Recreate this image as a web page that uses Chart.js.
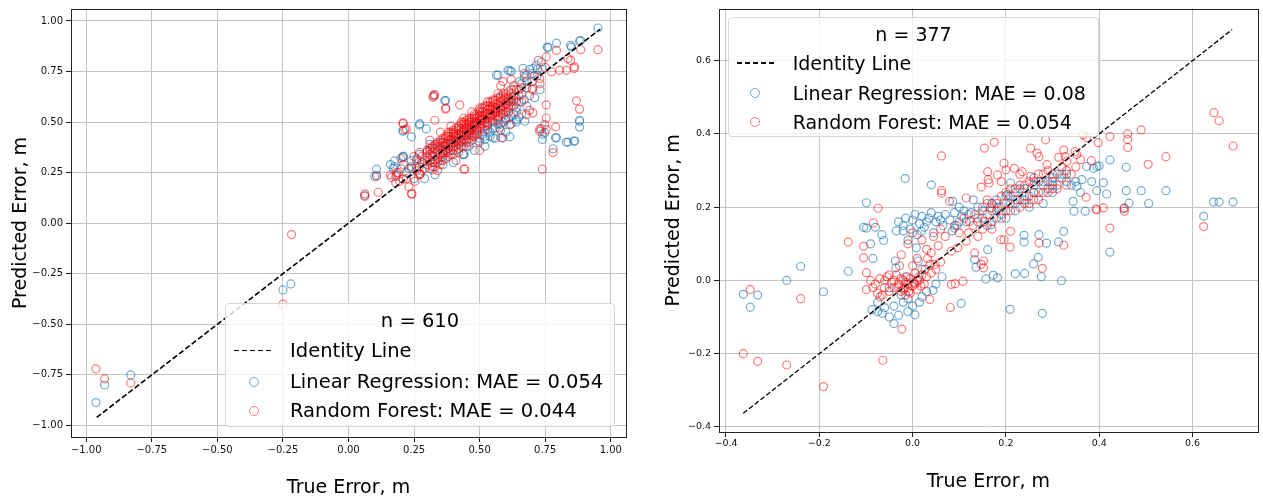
<!DOCTYPE html>
<html>
<head>
<meta charset="utf-8">
<script src="https://cdn.jsdelivr.net/npm/chart.js@4.4.1/dist/chart.umd.min.js"></script>
<style>
  body { margin: 0; background: #fff; width: 1263px; height: 500px; overflow: hidden; position: relative; font-family: "DejaVu Sans", sans-serif; }
  canvas { position: absolute; top: 0; }
  #leftChart { left: 0; }
  #rightChart { left: 640px; }
  .legend { position: absolute; background: rgba(255,255,255,0.8); border: 1px solid #d6d6d6; border-radius: 4px; box-sizing: border-box; color: #000; }
  .legend .row { position: absolute; white-space: nowrap; display: flex; align-items: center; }
  .legend .dash { position: absolute; height: 1.6px; background: repeating-linear-gradient(90deg, #000 0 5.5px, transparent 5.5px 8px); }
  .legend .dot { position: absolute; width: 8px; height: 8px; border-radius: 50%; box-sizing: content-box; }
</style>
</head>
<body>
<canvas id="leftChart" width="640" height="500"></canvas>
<canvas id="rightChart" width="623" height="500"></canvas>
<div id="leftLegend" class="legend"></div>
<div id="rightLegend" class="legend"></div>
<script>
// ---- data ----
const leftTicks = [-1.0, -0.75, -0.5, -0.25, 0.0, 0.25, 0.5, 0.75, 1.0];
const rightTicks = [-0.4, -0.2, 0.0, 0.2, 0.4, 0.6];

const leftIdentity = [-0.96, 0.96];
const rightIdentity = [-0.363, 0.685];

const leftN = 'n = 610';
const rightN = 'n = 377';
const leftMae = { linear: '0.054', forest: '0.044' };
const rightMae = { linear: '0.08', forest: '0.054' };

// left panel, linear regression
const leftLinear = [
  [-0.963,-0.887],[-0.93,-0.80],[-0.83,-0.75],[-0.25,-0.33],[-0.22,-0.30],
  [0.062,0.137],[0.107,0.267],[0.107,0.238],[0.10,0.231],[0.17,0.27],[0.176,0.308],[0.208,0.324],[0.176,0.28],[0.207,0.33],
  [0.208,0.455],[0.208,0.46],[0.24,0.427],[0.27,0.486],[0.272,0.492],[0.297,0.466],[0.325,0.628],[0.367,0.605],[0.37,0.607],
  [0.437,0.34],[0.44,0.34],[0.519,0.414],[0.551,0.422],[0.589,0.422],[0.615,0.427],[0.64,0.512],[0.672,0.504],[0.65,0.525],
  [0.735,0.466],[0.748,0.447],[0.739,0.414],[0.74,0.44],[0.78,0.368],[0.789,0.422],[0.793,0.422],[0.83,0.40],[0.837,0.401],[0.86,0.406],[0.862,0.406],
  [0.881,0.509],[0.881,0.475],[0.881,0.504],
  [0.564,0.732],[0.57,0.732],[0.608,0.756],[0.621,0.751],[0.615,0.753],[0.653,0.70],[0.665,0.765],[0.678,0.732],[0.703,0.765],[0.716,0.781],[0.735,0.797],[0.72,0.76],
  [0.758,0.871],[0.761,0.867],[0.793,0.89],[0.847,0.879],[0.85,0.871],[0.881,0.90],[0.885,0.903],[0.951,0.965],
  [0.28,0.26],[0.30,0.31],[0.31,0.27],[0.32,0.33],[0.33,0.30],[0.34,0.36],[0.35,0.31],[0.36,0.34],[0.37,0.39],[0.38,0.33],[0.39,0.36],
  [0.40,0.40],[0.41,0.36],[0.42,0.39],[0.43,0.43],[0.44,0.38],[0.45,0.41],[0.46,0.45],[0.47,0.41],[0.48,0.44],[0.49,0.46],[0.50,0.42],
  [0.51,0.47],[0.52,0.43],[0.53,0.48],[0.54,0.45],[0.55,0.50],[0.56,0.47],[0.57,0.52],[0.58,0.49],[0.59,0.54],[0.60,0.51],[0.61,0.57],
  [0.62,0.53],[0.63,0.58],[0.64,0.62],[0.65,0.60],[0.66,0.64],[0.68,0.67],[0.70,0.70],[0.72,0.73],[0.74,0.76],[0.67,0.72],[0.69,0.76],
  [0.62,0.66],[0.58,0.62],[0.54,0.57],[0.50,0.53],[0.46,0.50],[0.42,0.47],[0.38,0.43],[0.34,0.40],[0.30,0.36],[0.26,0.32],[0.24,0.28],
  [0.22,0.25],[0.20,0.27],[0.18,0.23],[0.16,0.29],[0.21,0.33],[0.25,0.22],[0.29,0.22],[0.36,0.29],[0.44,0.34],[0.52,0.38],[0.48,0.36],
  [0.56,0.42],[0.60,0.45],[0.64,0.50],[0.68,0.58],[0.71,0.62],[0.73,0.66],[0.66,0.54],[0.40,0.30],[0.33,0.24],
  [0.35,0.37],[0.37,0.36],[0.39,0.38],[0.41,0.43],[0.43,0.40],[0.45,0.44],[0.47,0.47],[0.49,0.49],[0.51,0.44],[0.53,0.46],[0.55,0.47],
  [0.57,0.49],[0.59,0.50],[0.61,0.52],[0.63,0.54],[0.52,0.51],[0.54,0.53],[0.56,0.55],[0.58,0.57],[0.60,0.59],[0.62,0.61],[0.46,0.38],
  [0.50,0.40],[0.54,0.43],[0.58,0.46],[0.62,0.49],[0.44,0.46],[0.40,0.43],[0.36,0.40],[0.32,0.37],[0.28,0.30],[0.26,0.28],[0.23,0.27],
  [0.27,0.34],[0.24,0.31],[0.31,0.39],[0.66,0.69],[0.70,0.74],[0.64,0.57],[0.67,0.61]
];

// left panel, random forest
const leftForest = [
  [-0.963,-0.72],[-0.93,-0.77],[-0.83,-0.79],[-0.25,-0.40],[-0.217,-0.056],
  [0.062,0.145],[0.062,0.132],[0.113,0.153],[0.107,0.231],[0.164,0.227],[0.183,0.251],[0.183,0.238],[0.195,0.207],[0.208,0.218],
  [0.24,0.145],[0.242,0.145],[0.253,0.207],[0.272,0.243],[0.274,0.243],[0.322,0.264],[0.44,0.267],[0.443,0.267],
  [0.208,0.492],[0.208,0.496],[0.215,0.463],[0.221,0.466],[0.322,0.623],[0.329,0.634],[0.325,0.634],[0.37,0.564],[0.371,0.569],[0.329,0.509],[0.424,0.585],
  [0.494,0.406],[0.50,0.36],[0.576,0.471],[0.583,0.422],[0.615,0.487],[0.678,0.536],[0.69,0.558],[0.703,0.545],
  [0.729,0.455],[0.729,0.466],[0.739,0.267],[0.748,0.487],[0.754,0.463],[0.754,0.52],[0.754,0.585],[0.78,0.349],[0.79,0.476],[0.869,0.605],[0.881,0.564],
  [0.589,0.70],[0.703,0.667],[0.729,0.716],[0.724,0.805],[0.754,0.822],[0.774,0.749],[0.793,0.854],[0.805,0.756],[0.831,0.756],
  [0.837,0.814],[0.86,0.765],[0.862,0.773],[0.847,0.805],[0.885,0.858],[0.951,0.858],
  [0.28,0.30],[0.29,0.27],[0.30,0.33],[0.30,0.29],[0.31,0.31],[0.32,0.35],[0.32,0.30],[0.33,0.33],[0.33,0.37],[0.34,0.32],[0.34,0.35],
  [0.35,0.38],[0.35,0.34],[0.36,0.36],[0.36,0.40],[0.37,0.35],[0.37,0.38],[0.38,0.41],[0.38,0.37],[0.39,0.39],[0.39,0.43],[0.40,0.38],
  [0.40,0.41],[0.41,0.44],[0.41,0.40],[0.42,0.42],[0.42,0.46],[0.43,0.41],[0.43,0.44],[0.44,0.47],[0.44,0.43],[0.45,0.45],[0.45,0.49],
  [0.46,0.44],[0.46,0.47],[0.47,0.50],[0.47,0.46],[0.48,0.48],[0.48,0.52],[0.49,0.47],[0.49,0.50],[0.50,0.53],[0.50,0.49],[0.51,0.51],
  [0.51,0.55],[0.52,0.50],[0.52,0.53],[0.53,0.56],[0.53,0.52],[0.54,0.54],[0.54,0.58],[0.55,0.53],[0.55,0.56],[0.56,0.59],[0.56,0.55],
  [0.57,0.57],[0.58,0.60],[0.58,0.56],[0.59,0.58],[0.60,0.62],[0.60,0.59],[0.61,0.60],[0.62,0.64],[0.63,0.61],[0.64,0.66],[0.65,0.63],
  [0.30,0.36],[0.33,0.28],[0.36,0.31],[0.38,0.45],[0.40,0.34],[0.42,0.37],[0.44,0.52],[0.46,0.40],[0.48,0.43],[0.50,0.57],[0.52,0.46],
  [0.55,0.61],[0.57,0.51],[0.59,0.64],[0.61,0.55],[0.63,0.68],[0.66,0.60],[0.68,0.70],[0.70,0.66],[0.26,0.31],[0.27,0.24],[0.24,0.27],
  [0.22,0.22],[0.25,0.33],[0.21,0.29],[0.19,0.25],[0.23,0.18],[0.27,0.35],[0.31,0.41],[0.35,0.45],[0.39,0.48],[0.34,0.26],[0.41,0.31],
  [0.45,0.38],[0.43,0.50],[0.47,0.55],[0.53,0.60],[0.57,0.64],[0.60,0.52],[0.62,0.58],[0.64,0.55],[0.66,0.67],[0.69,0.63],[0.71,0.73],
  [0.73,0.69],[0.75,0.77],[0.67,0.74],[0.62,0.71],[0.58,0.68],[0.20,0.32],[0.18,0.20],[0.16,0.24],
  [0.31,0.34],[0.32,0.28],[0.33,0.31],[0.34,0.38],[0.35,0.29],[0.35,0.41],[0.36,0.33],[0.37,0.42],[0.37,0.32],[0.38,0.35],[0.38,0.39],
  [0.39,0.34],[0.39,0.41],[0.40,0.44],[0.40,0.36],[0.41,0.38],[0.41,0.42],[0.42,0.40],[0.42,0.44],[0.43,0.38],[0.43,0.47],[0.44,0.41],
  [0.44,0.45],[0.45,0.43],[0.45,0.47],[0.46,0.42],[0.46,0.49],[0.47,0.44],[0.47,0.48],[0.48,0.46],[0.48,0.50],[0.49,0.44],[0.49,0.52],
  [0.50,0.47],[0.50,0.51],[0.51,0.49],[0.51,0.53],[0.52,0.48],[0.52,0.55],[0.53,0.50],[0.53,0.54],[0.54,0.52],[0.54,0.56],[0.55,0.51],
  [0.55,0.58],[0.56,0.53],[0.56,0.57],[0.57,0.55],[0.57,0.59],[0.58,0.54],[0.58,0.58],[0.59,0.56],[0.59,0.61],[0.60,0.57],[0.61,0.62],
  [0.61,0.58],[0.62,0.60],[0.63,0.63],[0.64,0.60],[0.65,0.66],[0.44,0.49],[0.46,0.51],[0.48,0.54],[0.50,0.55],[0.52,0.57],[0.40,0.46],
  [0.38,0.43],[0.36,0.38],[0.34,0.30],[0.42,0.35],[0.45,0.40],[0.47,0.43],[0.49,0.45],[0.53,0.49],[0.55,0.54],[0.57,0.53],[0.60,0.55],
  [0.29,0.31],[0.27,0.28],[0.26,0.26],[0.28,0.33],[0.31,0.37],
  [0.30,0.35],[0.31,0.36],[0.32,0.38],[0.33,0.39],[0.34,0.39],[0.35,0.40],[0.36,0.42],[0.37,0.43],[0.38,0.44],[0.39,0.45],[0.40,0.45],
  [0.41,0.47],[0.42,0.48],[0.43,0.49],[0.44,0.50],[0.45,0.51],[0.46,0.52],[0.47,0.52],[0.48,0.53],[0.49,0.54],[0.50,0.56],[0.51,0.57],
  [0.52,0.58],[0.53,0.58],[0.54,0.60],[0.55,0.60],[0.56,0.61],[0.57,0.62],[0.58,0.63],[0.59,0.63],[0.60,0.64],[0.61,0.65],[0.63,0.66],
  [0.36,0.35],[0.41,0.41],[0.46,0.46],[0.51,0.52],[0.56,0.56],[0.43,0.45],[0.48,0.49]
];

// right panel, linear regression
const rightLinear = [
  [-0.363,-0.038],[-0.348,-0.073],[-0.332,-0.040],[-0.270,0.000],[-0.240,0.038],[-0.191,-0.031],[-0.138,0.025],
  [-0.099,0.212],[-0.016,0.278],[0.040,0.261],
  [-0.105,0.145],[-0.099,0.143],[-0.090,0.100],[-0.080,0.145],[-0.085,0.060],[-0.066,0.125],[-0.062,0.109],[-0.037,0.053],[-0.036,0.034],
  [-0.035,0.135],[-0.030,0.160],[-0.020,0.150],[-0.015,0.170],[-0.005,0.140],[0.000,0.165],[0.005,0.180],[0.015,0.155],[0.020,0.175],
  [0.025,0.145],[0.035,0.170],[0.040,0.185],[0.050,0.160],[0.055,0.175],[0.065,0.150],[0.070,0.180],[0.080,0.165],[0.090,0.185],
  [0.095,0.150],[0.105,0.175],[0.115,0.160],[0.125,0.185],[0.010,0.125],[0.045,0.130],[0.085,0.135],[-0.010,0.110],[0.019,0.134],
  [0.008,0.089],[0.012,0.053],[0.090,0.143],[0.086,0.216],
  [-0.087,-0.080],[-0.075,-0.085],[-0.065,-0.090],[-0.060,-0.075],[-0.050,-0.100],[-0.040,-0.118],[-0.030,-0.095],[-0.020,-0.060],
  [-0.010,-0.050],[0.005,-0.094],[0.000,-0.070],[-0.025,-0.040],[0.015,-0.060],[0.030,-0.030],[0.044,-0.027],[-0.050,-0.020],
  [-0.015,0.010],[0.010,0.000],[0.020,0.030],
  [0.104,-0.063],[0.173,0.014],[0.182,0.007],[0.209,-0.079],[0.278,-0.090],[0.157,0.004],[0.136,0.036],[0.220,0.018],[0.240,0.019],
  [0.259,0.045],[0.269,0.063],[0.276,0.010],[0.319,-0.001],[0.423,0.077],[0.063,0.010],
  [0.161,0.084],[0.133,0.057],[0.168,0.152],[0.182,0.198],[0.203,0.234],[0.210,0.266],
  [0.239,0.105],[0.239,0.123],[0.271,0.125],[0.287,0.102],[0.313,0.105],[0.324,0.134],
  [0.14,0.20],[0.15,0.17],[0.16,0.21],[0.17,0.19],[0.18,0.22],[0.19,0.20],[0.20,0.23],[0.21,0.21],[0.22,0.24],[0.23,0.22],[0.24,0.25],
  [0.25,0.23],[0.26,0.26],[0.27,0.24],[0.28,0.27],[0.29,0.25],[0.30,0.28],[0.31,0.26],[0.32,0.29],[0.33,0.27],[0.25,0.20],[0.28,0.21],
  [0.30,0.24],[0.22,0.19],[0.18,0.17],[0.12,0.18],[0.10,0.20],[0.13,0.22],[0.26,0.28],
  [0.344,0.216],[0.346,0.189],[0.370,0.189],[0.352,0.257],[0.363,0.275],[0.384,0.270],[0.373,0.311],[0.388,0.306],[0.395,0.311],
  [0.423,0.329],[0.400,0.313],[0.409,0.267],[0.395,0.245],[0.416,0.236],[0.458,0.309],[0.458,0.245],[0.490,0.245],[0.543,0.245],
  [0.464,0.211],[0.506,0.210],[0.453,0.196],[0.645,0.214],[0.657,0.214],[0.687,0.214],[0.624,0.175],
  [0.15,0.19],[0.17,0.21],[0.19,0.18],[0.21,0.23],[0.23,0.25],[0.24,0.22],[0.26,0.24],[0.27,0.27],[0.29,0.27],[0.30,0.26],[0.31,0.29],
  [0.33,0.29],[0.34,0.26],[0.35,0.27],[0.36,0.24],[0.11,0.19],[0.14,0.16],[0.16,0.15],[0.20,0.17],[0.22,0.21],[-0.02,0.135],[0.03,0.16],
  [0.06,0.165],[0.10,0.16],[-0.075,-0.06],[-0.04,-0.07],[-0.01,-0.085],[0.02,-0.045],[0.05,-0.01]
];

// right panel, random forest
const rightForest = [
  [-0.363,-0.200],[-0.348,-0.025],[-0.332,-0.221],[-0.270,-0.231],[-0.240,-0.050],[-0.191,-0.290],[-0.064,-0.218],
  [-0.138,0.105],[-0.105,0.093],[-0.105,0.062],[-0.099,0.021],[-0.099,-0.025],[-0.084,0.157],[-0.074,0.197],[0.062,0.340],[0.062,0.245],
  [0.062,0.238],[0.079,0.216],[0.115,0.225],
  [-0.080,-0.010],[-0.075,-0.035],[-0.070,0.005],[-0.060,-0.020],[-0.055,0.010],[-0.050,-0.030],[-0.045,-0.005],[-0.040,-0.020],
  [-0.035,0.015],[-0.030,-0.010],[-0.025,-0.030],[-0.020,0.000],[-0.018,-0.020],[-0.015,-0.040],[-0.012,0.010],[-0.010,-0.010],
  [-0.008,-0.030],[-0.005,0.005],[0.000,-0.015],[0.003,-0.005],[0.005,0.020],[0.010,-0.025],[0.015,0.000],[0.020,0.015],[0.025,-0.010],
  [0.027,0.030],[-0.023,-0.133],[-0.065,-0.040],[-0.028,0.040],[0.000,0.040],[0.037,-0.052],[0.081,-0.074],
  [-0.024,0.070],[-0.010,0.100],[0.000,0.130],[0.010,0.060],[0.020,0.110],[0.030,0.085],[0.040,0.075],[0.048,0.044],[0.037,0.044],
  [0.045,0.120],[0.055,0.095],[0.083,0.080],[0.097,0.089],[0.115,0.107],[0.083,-0.011],[0.108,-0.002],[0.091,-0.009],[0.133,0.075],
  [0.147,0.044],[0.152,0.053],[0.152,0.034],[0.278,0.033],[0.122,0.161],[0.133,0.180],[0.154,0.161],[0.168,0.198],[0.189,0.111],
  [0.210,0.134],[0.196,0.111],[0.209,0.091],[0.271,0.102],[0.324,0.096],[0.06,0.14],[0.07,0.12],[0.09,0.15],[0.10,0.13],
  [0.13,0.15],[0.14,0.17],[0.15,0.14],[0.16,0.18],[0.17,0.16],[0.18,0.19],[0.19,0.17],[0.20,0.21],[0.21,0.19],[0.22,0.22],[0.23,0.20],
  [0.24,0.23],[0.25,0.21],[0.26,0.24],[0.27,0.22],[0.28,0.26],[0.29,0.24],[0.30,0.27],[0.31,0.25],[0.32,0.28],[0.33,0.26],[0.34,0.29],
  [0.19,0.23],[0.21,0.25],[0.23,0.26],[0.25,0.27],[0.27,0.29],[0.29,0.30],[0.17,0.21],[0.15,0.20],[0.196,0.320],[0.218,0.306],
  [0.235,0.297],[0.253,0.284],[0.288,0.316],[0.200,0.302],[0.161,0.297],[0.162,0.275],[0.182,0.288],[0.147,0.255],[0.164,0.266],
  [0.154,0.361],[0.175,0.377],[0.253,0.361],[0.267,0.347],[0.271,0.338],[0.285,0.384],[0.324,0.356],[0.348,0.352],[0.327,0.338],
  [0.313,0.336],[0.331,0.325],[0.352,0.344],[0.366,0.397],[0.373,0.390],[0.383,0.327],[0.398,0.376],[0.423,0.393],[0.461,0.400],
  [0.461,0.385],[0.461,0.363],[0.490,0.411],[0.543,0.338],[0.505,0.317],[0.372,0.227],[0.395,0.193],[0.409,0.198],[0.423,0.143],
  [0.454,0.198],[0.454,0.189],[0.393,0.195],[0.646,0.458],[0.657,0.436],[0.687,0.367],[0.624,0.147],
  [-0.03,-0.02],[-0.02,-0.025],[-0.01,-0.02],[-0.015,-0.005],[0.005,-0.01],[-0.025,0.005],[-0.005,-0.035],[0.012,0.008],[-0.04,0.000],
  [-0.06,0.000],[-0.05,0.015],[0.018,-0.015],[0.03,0.01],[0.04,0.02],[0.05,0.03],[0.06,0.05],[-0.09,0.00],[-0.085,-0.02],[-0.07,-0.045],
  [0.032,0.060],
  [0.16,0.22],[0.18,0.21],[0.20,0.19],[0.20,0.24],[0.22,0.25],[0.24,0.26],[0.24,0.21],[0.26,0.27],[0.26,0.22],[0.28,0.24],[0.28,0.29],
  [0.30,0.29],[0.30,0.25],[0.32,0.31],[0.33,0.30],[0.35,0.31],[0.36,0.33],[0.12,0.13],[0.11,0.17],[0.14,0.12],[0.17,0.14],[0.19,0.27],
  [0.23,0.29]
];

// ---- styling ----
const BLUE = 'rgba(31,119,180,0.62)';
const RED = 'rgba(255,0,0,0.52)';
const FONT = '"DejaVu Sans", sans-serif';

const toPts = arr => arr.map(p => ({ x: p[0], y: p[1] }));
const fmt = (v, d) => v.toFixed(d).replace('-', '\u2212');

// black box around the plot area
const frame = {
  id: 'frame',
  afterDatasetsDraw(chart) {
    const a = chart.chartArea, ctx = chart.ctx;
    ctx.save();
    ctx.strokeStyle = '#222';
    ctx.lineWidth = 1;
    ctx.strokeRect(Math.round(a.left) + 0.5, Math.round(a.top) + 0.5, Math.round(a.right - a.left), Math.round(a.bottom - a.top));
    ctx.restore();
  }
};

function makeChart(id, c) {
  const axis = (ticks, lim, digits, size, fixer, title, titlePad, tickPad) => ({
    type: 'linear', min: lim[0], max: lim[1],
    afterBuildTicks: s => { s.ticks = ticks.map(v => ({ value: v })); },
    afterFit: fixer,
    ticks: { callback: v => fmt(v, digits), font: { family: FONT, size: size }, color: '#111', padding: tickPad, maxRotation: 0, autoSkip: false },
    grid: { color: '#c4c4c4', lineWidth: 1, tickColor: '#222', tickLength: 5 },
    border: { display: false },
    title: { display: true, text: title, font: { family: FONT, size: 19 }, color: '#000', padding: titlePad }
  });
  return new Chart(document.getElementById(id), {
    type: 'scatter',
    data: {
      datasets: [
        { type: 'line', label: 'Identity Line', data: toPts([[c.identity[0], c.identity[0]], [c.identity[1], c.identity[1]]]),
          borderColor: '#000', borderWidth: c.lineW, borderDash: c.dash, pointRadius: 0, fill: false, order: 0 },
        { label: 'Linear Regression: MAE = ' + c.mae.linear, data: toPts(c.linear),
          borderColor: BLUE, backgroundColor: 'transparent', borderWidth: 1.2, pointRadius: 4, order: 2 },
        { label: 'Random Forest: MAE = ' + c.mae.forest, data: toPts(c.forest),
          borderColor: RED, backgroundColor: 'transparent', borderWidth: 1.2, pointRadius: 4, order: 1 }
      ]
    },
    options: {
      responsive: false,
      animation: false,
      events: [],
      layout: { padding: c.pad },
      plugins: { legend: { display: false }, tooltip: { enabled: false } },
      scales: {
        x: axis(c.ticks, c.xlim, c.digits, c.tickSize, s => { s.height = c.xH; }, 'True Error, m', { top: 0, bottom: c.xTitlePad }, c.xTickPad),
        y: axis(c.ticks, c.ylim, c.digits, c.tickSize, s => { s.width = c.yW; }, 'Predicted Error, m', { top: c.yTitlePad, bottom: 0 }, 3)
      }
    },
    plugins: [frame]
  });
}

const left = makeChart('leftChart', {
  identity: leftIdentity, linear: leftLinear, forest: leftForest, mae: leftMae, ticks: leftTicks, digits: 2, tickSize: 10,
  xlim: [-1.058, 1.058], ylim: [-1.057, 1.059], pad: { left: 0, right: 14, top: 5, bottom: 0 },
  xH: 63, yW: 71, xTitlePad: 1, yTitlePad: 10, xTickPad: 2, lineW: 1.6, dash: [5.5, 2.5]
});
const right = makeChart('rightChart', {
  identity: rightIdentity, linear: rightLinear, forest: rightForest, mae: rightMae, ticks: rightTicks, digits: 1, tickSize: 9.5,
  xlim: [-0.415, 0.740], ylim: [-0.414, 0.742], pad: { left: 0, right: 1, top: 7, bottom: 0 },
  xH: 68, yW: 79, xTitlePad: 7, yTitlePad: 23, xTickPad: 1, lineW: 1.3, dash: [5, 2.3]
});

// legend boxes drawn as html, labels taken from the chart datasets
function makeLegend(elId, chart, title, L) {
  const el = document.getElementById(elId);
  Object.assign(el.style, { left: L.x + 'px', top: L.y + 'px', width: L.w + 'px', height: L.h + 'px' });
  const fs = L.font;
  const row = (text, cy, x, center) => {
    const r = document.createElement('div');
    r.className = 'row';
    r.textContent = text;
    const h = fs * 1.2;
    Object.assign(r.style, { top: (cy - h / 2) + 'px', height: h + 'px', fontSize: fs + 'px' });
    if (center) { r.style.left = '0'; r.style.width = '100%'; r.style.justifyContent = 'center'; }
    else r.style.left = x + 'px';
    el.appendChild(r);
  };
  row(title, L.rows[0], 0, true);
  const ds = chart.data.datasets;
  const dash = document.createElement('div');
  dash.className = 'dash';
  Object.assign(dash.style, { left: L.hx0 + 'px', width: (L.hx1 - L.hx0) + 'px', top: (L.rows[1] - 0.8) + 'px' });
  el.appendChild(dash);
  row(ds[0].label, L.rows[1], L.tx);
  [1, 2].forEach(i => {
    const d = document.createElement('div');
    d.className = 'dot';
    const cx = (L.hx0 + L.hx1) / 2;
    Object.assign(d.style, { left: (cx - 5) + 'px', top: (L.rows[i + 1] - 5) + 'px', border: '1px solid ' + ds[i].borderColor });
    el.appendChild(d);
    row(ds[i].label, L.rows[i + 1], L.tx);
  });
}

makeLegend('leftLegend', left, leftN, { x: 225, y: 303, w: 390, h: 124, font: 19.5, rows: [17, 46.5, 78, 107], hx0: 7.7, hx1: 47.7, tx: 64 });
makeLegend('rightLegend', right, rightN, { x: 728, y: 17, w: 371, h: 120, font: 19, rows: [16, 45, 75.3, 104], hx0: 8, hx1: 44.7, tx: 63.7 });
</script>
</body>
</html>
